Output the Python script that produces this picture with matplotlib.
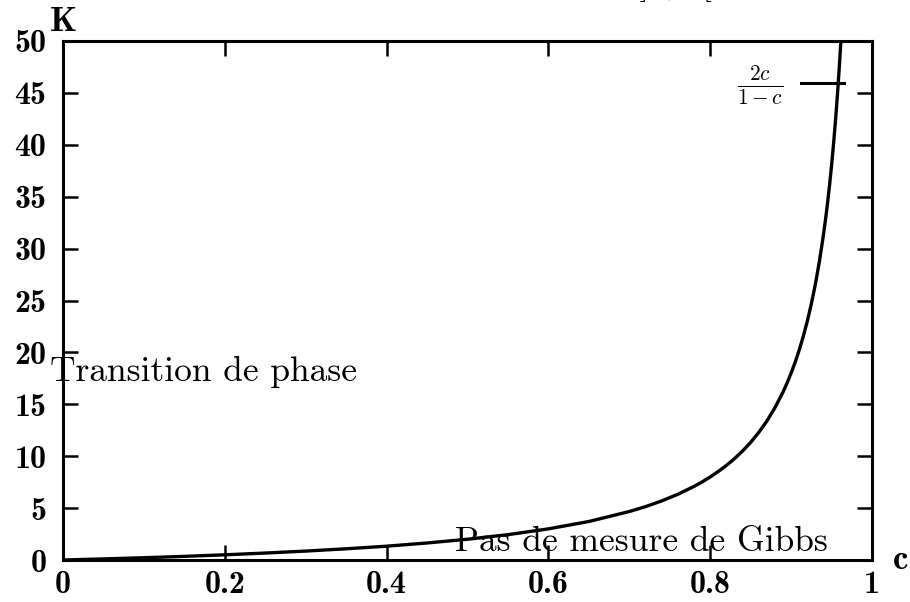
import matplotlib
matplotlib.use("Agg")
import matplotlib.pyplot as plt

plt.rcParams['mathtext.fontset'] = 'cm'
plt.rcParams['axes.unicode_minus'] = False

# data
c_vals = [0, 0.05, 0.1, 0.15, 0.2, 0.25, 0.3, 0.35, 0.4, 0.45, 0.5, 0.55, 0.6,
          0.65, 0.7, 0.72, 0.74, 0.76, 0.78, 0.79, 0.8, 0.81, 0.82, 0.83, 0.84,
          0.85, 0.86, 0.87, 0.88, 0.89, 0.895, 0.9, 0.905, 0.91, 0.915, 0.92,
          0.925, 0.93, 0.935, 0.94, 0.9425, 0.945, 0.9475, 0.95, 0.9525, 0.955,
          0.9575, 0.96, 0.9615]
k_vals = [0, 0.105, 0.22, 0.35, 0.5, 0.67, 0.86, 1.08, 1.33, 1.64, 2.0, 2.44, 3.0,
          3.71, 4.67, 5.14, 5.69, 6.33, 7.09, 7.52, 8.0, 8.53, 9.11, 9.76, 10.5,
          11.33, 12.29, 13.38, 14.67, 16.18, 17.05, 18.0, 19.05, 20.22, 21.53, 23.0,
          24.67, 26.57, 28.77, 31.33, 32.78, 34.36, 36.1, 38.0, 40.11, 42.44,
          45.06, 48.0, 50.0]
x_ticks = [0, 0.2, 0.4, 0.6, 0.8, 1]
x_tick_labels = ['0', '0.2', '0.4', '0.6', '0.8', '1']
y_ticks = [0, 5, 10, 15, 20, 25, 30, 35, 40, 45, 50]
y_tick_labels = [str(v) for v in y_ticks]
title_text = 'Diagramme de phase pour K et c ∈ ]0, 1['
legend_label = r'$\frac{2c}{1-c}$'
region_labels = ['Transition de phase', 'Pas de mesure de Gibbs']

fig = plt.figure(figsize=(9.1, 6.02), dpi=100)
ax = fig.add_axes([63/910, 1-560/602, (872-63)/910, (560-41)/602])

ax.plot(c_vals, k_vals, color='black', lw=2.4, solid_capstyle='butt')
ax.set_xlim(0, 1)
ax.set_ylim(0, 50)

for s in ax.spines.values():
    s.set_linewidth(2.2)

ax.set_xticks(x_ticks)
ax.set_xticklabels(x_tick_labels)
ax.set_yticks(y_ticks)
ax.set_yticklabels(y_tick_labels)
ax.tick_params(direction='in', length=11, width=1.8, top=True, right=True,
               labelsize=23)
ax.tick_params(axis='x', pad=7)
ax.tick_params(axis='y', pad=12)
for lab in ax.get_xticklabels() + ax.get_yticklabels():
    lab.set_fontfamily('cmb10')

# axis labels
fig.text(50/910, 1-31/602, 'K', fontfamily='cmb10', fontsize=25, ha='left', va='baseline')
fig.text(893/910, 1-569/602, 'c', fontfamily='cmb10', fontsize=25, ha='left', va='baseline')

# legend
fig.text(783/910, 1-85/602, legend_label, fontsize=22, ha='right', va='center')
ax.plot([0.9128, 0.9648], [46, 46], color='black', lw=2.2, clip_on=False)

# region labels
fig.text(50/910, 1-381/602, region_labels[0], fontfamily='cmr10', fontsize=25.5,
         ha='left', va='baseline')
fig.text(455/910, 1-551/602, region_labels[1], fontfamily='cmr10', fontsize=25.5,
         ha='left', va='baseline')

# title, mostly cut off at the top (as in the reference)
fig.text(108/910, 1+5.5/602, title_text, fontfamily=['cmr10', 'DejaVu Serif'], fontsize=24,
         ha='left', va='baseline')

fig.savefig('out.png', dpi=100)
